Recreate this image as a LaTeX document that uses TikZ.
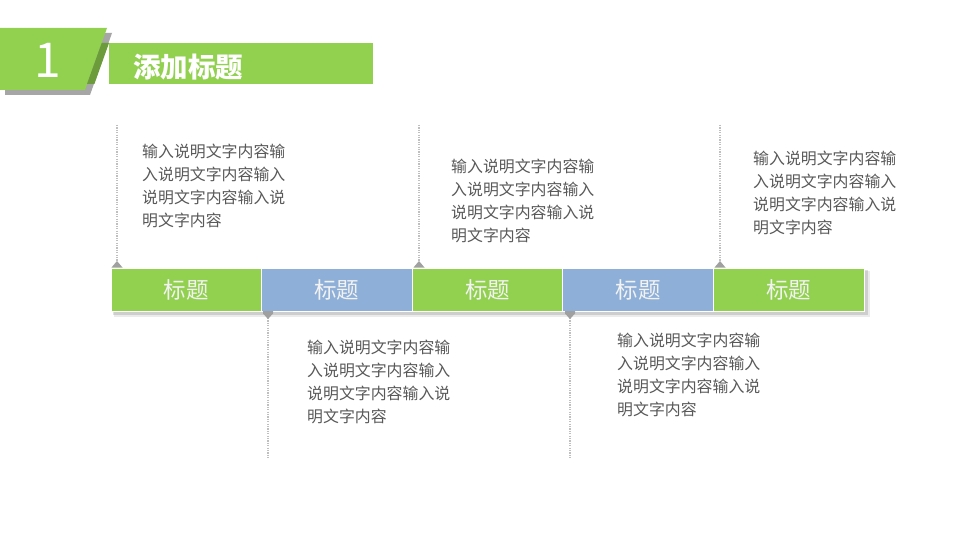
\documentclass[tikz,border=0pt]{standalone}
\usepackage{fontspec}
\setmainfont{Noto Sans CJK SC}
\newfontfamily\cjkfont{Noto Sans CJK SC}
\usetikzlibrary{shadows.blur}
\definecolor{lgreen}{HTML}{92D050}
\definecolor{lblue}{HTML}{8EAFD7}
\definecolor{dgreen}{HTML}{6B9B3B}
\definecolor{shgray}{HTML}{A6A6A6}
\definecolor{txtgray}{HTML}{595959}
\definecolor{dotgray}{HTML}{BFBFBF}
\definecolor{mkgray}{HTML}{A0A0A0}
\tikzset{
  segbox/.style={rectangle, minimum width=150.6pt, minimum height=43pt, inner sep=0pt,
    draw=white, line width=1pt, text=white!95!black, font=\fontsize{22.5}{22.5}\selectfont},
  greenseg/.style={segbox, fill=lgreen},
  blueseg/.style={segbox, fill=lblue},
  desc/.style={anchor=north west, inner sep=0pt, align=left, text=txtgray,
    font=\fontsize{15.9}{23}\selectfont},
  guide/.style={draw=dotgray, line width=1.1pt, dash pattern=on 1.2pt off 1.2pt},
  marker/.style={fill=mkgray, draw=none}
}
\begin{document}
\begin{tikzpicture}[x=1pt,y=-1pt]
\useasboundingbox (0,0) rectangle (960,540);
\fill[white] (0,0) rectangle (960,540);
% header
\fill[shgray] (5,33) -- (112,33) -- (90,95) -- (5,95) -- cycle;
\fill[lgreen] (0,28) -- (107,28) -- (85,90) -- (0,90) -- cycle;
\fill[dgreen] (101.7,43) -- (109,43) -- (94.4,84) -- (87,84) -- cycle;
\fill[lgreen] (109,43) rectangle (373,84);
\node[text=white, font=\fontsize{48}{48}\selectfont, inner sep=0pt] (num) at (48,60) {1};
\node[text=white, font=\fontsize{27.5}{27.5}\selectfont\bfseries, inner sep=0pt] (title) at (188,67) {添加标题};
% timeline bar shadow
\fill[black, opacity=0.12] (113,270) rectangle (868,315);
\fill[black, opacity=0.08] (114,271) rectangle (870,317);
\node[greenseg] (s1) at (186.3,289.5) {标题};
\node[blueseg]  (s2) at (336.9,289.5) {标题};
\node[greenseg] (s3) at (487.5,289.5) {标题};
\node[blueseg]  (s4) at (638.1,289.5) {标题};
\node[greenseg] (s5) at (788.7,289.5) {标题};
% guide coordinates
\coordinate (t1) at (117,125); \coordinate (m1) at (117,261);
\coordinate (t3) at (419,125); \coordinate (m3) at (419,261);
\coordinate (t5) at (720,125); \coordinate (m5) at (720,261);
\coordinate (b2) at (268,458); \coordinate (n2) at (268,318);
\coordinate (b4) at (570,458); \coordinate (n4) at (570,318);
\draw[guide] (t1) -- (m1);
\draw[guide] (t3) -- (m3);
\draw[guide] (t5) -- (m5);
\draw[guide] (n2) -- (b2);
\draw[guide] (n4) -- (b4);
% markers
\fill[marker] (m1) -- ++(-5.5,6.5) -- ++(11,0) -- cycle;
\fill[marker] (m3) -- ++(-5.5,6.5) -- ++(11,0) -- cycle;
\fill[marker] (m5) -- ++(-5.5,6.5) -- ++(11,0) -- cycle;
\fill[marker] (268,311) -- (263,311) -- (263,313.5) -- (268,319) -- (273,313.5) -- (273,311) -- cycle;
\fill[marker] (570,311) -- (565,311) -- (565,313.5) -- (570,319) -- (575,313.5) -- (575,311) -- cycle;
% descriptions
\node[desc] (d1) at (142,143.5) {输入说明文字内容输\\入说明文字内容输入\\说明文字内容输入说\\明文字内容};
\node[desc] (d3) at (451,158.5) {输入说明文字内容输\\入说明文字内容输入\\说明文字内容输入说\\明文字内容};
\node[desc] (d5) at (753,150.5) {输入说明文字内容输\\入说明文字内容输入\\说明文字内容输入说\\明文字内容};
\node[desc] (d2) at (307,339.5) {输入说明文字内容输\\入说明文字内容输入\\说明文字内容输入说\\明文字内容};
\node[desc] (d4) at (617,332.5) {输入说明文字内容输\\入说明文字内容输入\\说明文字内容输入说\\明文字内容};
\end{tikzpicture}
\end{document}
